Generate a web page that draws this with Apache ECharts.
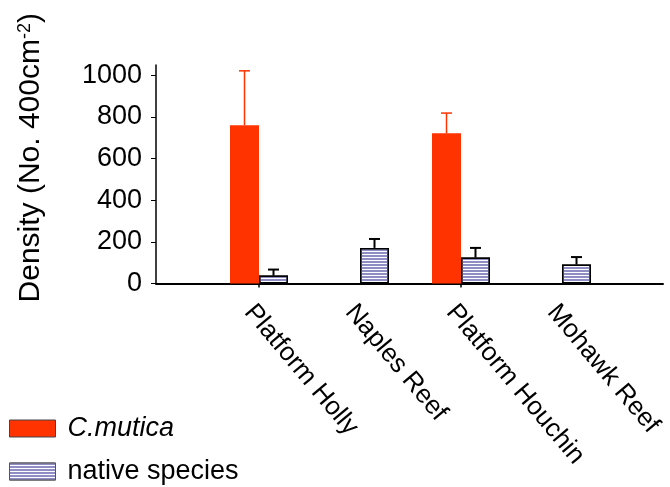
<!DOCTYPE html>
<html>
<head>
<meta charset="utf-8">
<script src="https://cdn.jsdelivr.net/npm/echarts@6/dist/echarts.min.js"></script>
<style>
  html, body { margin: 0; padding: 0; background: #fff; }
  #chart { width: 670px; height: 487px; }
</style>
</head>
<body>
<div id="chart"></div>
<script>
// Sites sampled
var sites = ['Platform Holly', 'Naples Reef', 'Platform Houchin', 'Mohawk Reef'];
// Mean density (No. per 400 cm^2)
var caprellaMean = [761, null, 722, null];
var nativeMean = [38, 171, 125, 91];
// Standard error (upper bar only)
var caprellaErr = [261, null, 97, null];
var nativeErr = [29, 43, 46, 36];
// Y axis ticks
var yTicks = [0, 200, 400, 600, 800, 1000];

var FONT = '"Liberation Sans", Arial, sans-serif';
var RED = '#ff3300';
var STRIPE = '#8e8ec4';
var BAR_W = 29;

// Upper error bar (stem + cap) drawn from the bar's top
function errorBars(means, errs, offset, color, lw) {
  var data = [];
  for (var i = 0; i < means.length; i++) {
    if (means[i] != null && errs[i] != null) data.push([i, means[i], means[i] + errs[i]]);
  }
  return {
    type: 'custom',
    xAxisIndex: 1,
    yAxisIndex: 1,
    z: 5,
    silent: true,
    data: data,
    renderItem: function (params, api) {
      var base = api.coord([api.value(0), api.value(1)]);
      var top = api.coord([api.value(0), api.value(2)]);
      var x = base[0] + offset;
      var cap = 5.5;
      return {
        type: 'group',
        children: [
          { type: 'line', shape: { x1: x, y1: base[1], x2: x, y2: top[1] }, style: { stroke: color, lineWidth: lw } },
          { type: 'line', shape: { x1: x - cap, y1: top[1], x2: x + cap, y2: top[1] }, style: { stroke: color, lineWidth: lw } }
        ]
      };
    }
  };
}

var chart = echarts.init(document.getElementById('chart'), null, { renderer: 'canvas' });

chart.setOption({
  backgroundColor: '#fff',
  animation: false,
  textStyle: { fontFamily: FONT, color: '#000' },
  grid: [
    { left: 156, right: 7, top: 65, bottom: 203.5 },
    { left: 208.5, right: 57.5, top: 65, bottom: 203.5 }
  ],
  legend: {
    orient: 'vertical',
    left: 9,
    top: 415,
    padding: 0,
    icon: 'rect',
    itemWidth: 46,
    itemHeight: 17,
    itemGap: 16,
    textStyle: { fontFamily: FONT, fontSize: 27, color: '#000', padding: [0, 0, 0, 7] },
    data: [
      { name: 'C.mutica', textStyle: { fontStyle: 'italic' }, itemStyle: { borderColor: '#444', borderWidth: 1 } },
      { name: 'native species', itemStyle: { borderColor: '#555', borderWidth: 1 } }
    ]
  },
  xAxis: [
    {
      gridIndex: 0, type: 'value', min: 0, max: 1,
      axisLine: { show: true, onZero: false, lineStyle: { color: '#000', width: 2 } },
      axisTick: { show: false }, axisLabel: { show: false }, splitLine: { show: false }
    },
    {
      gridIndex: 1, type: 'category', data: sites,
      axisLine: { show: false },
      axisTick: {
        show: true, alignWithLabel: true, length: 4, inside: false,
        interval: function (index) { return index === 0 || index === 2; },
        lineStyle: { color: '#000', width: 1.5 }
      },
      axisLabel: {
        rotate: -50, fontSize: 26, color: '#000', fontFamily: FONT,
        margin: 16, interval: 0, verticalAlign: 'top'
      }
    }
  ],
  yAxis: [
    {
      gridIndex: 0, type: 'value', min: 0, max: 1050,
      name: '{a|Density (No. 400cm}{s|-2}{a|)}',
      nameLocation: 'middle',
      nameGap: 110,
      nameTextStyle: {
        padding: [0, 0, 0, 33],
        rich: {
          a: { fontSize: 30, fontFamily: FONT, color: '#000' },
          s: { fontSize: 18, fontFamily: FONT, color: '#000', verticalAlign: 'top', padding: [0, 0, 12, 0] }
        }
      },
      axisLine: { show: true, lineStyle: { color: '#000', width: 1.5 } },
      axisTick: { show: true, inside: false, length: 5, customValues: yTicks, lineStyle: { color: '#000', width: 1 } },
      axisLabel: {
        customValues: yTicks, fontSize: 27, color: '#000', fontFamily: FONT, margin: 14,
        formatter: function (v) { return String(v); }
      },
      splitLine: { show: false }
    },
    {
      gridIndex: 1, type: 'value', min: 0, max: 1050, show: false, splitLine: { show: false }
    }
  ],
  series: [
    {
      name: 'C.mutica', type: 'bar', xAxisIndex: 1, yAxisIndex: 1,
      data: caprellaMean, barWidth: BAR_W, barGap: '0%',
      itemStyle: { color: RED }
    },
    {
      name: 'native species', type: 'bar', xAxisIndex: 1, yAxisIndex: 1,
      data: nativeMean, barWidth: BAR_W, barGap: '0%',
      itemStyle: {
        color: '#ffffff', borderColor: '#000', borderWidth: 1.5,
        decal: { symbol: 'rect', symbolSize: 1, color: STRIPE, dashArrayX: [1, 0], dashArrayY: [2, 1], rotation: 0 }
      }
    },
    errorBars(caprellaMean, caprellaErr, -BAR_W / 2, RED, 1.5),
    errorBars(nativeMean, nativeErr, BAR_W / 2, '#000', 2)
  ]
});
</script>
</body>
</html>
